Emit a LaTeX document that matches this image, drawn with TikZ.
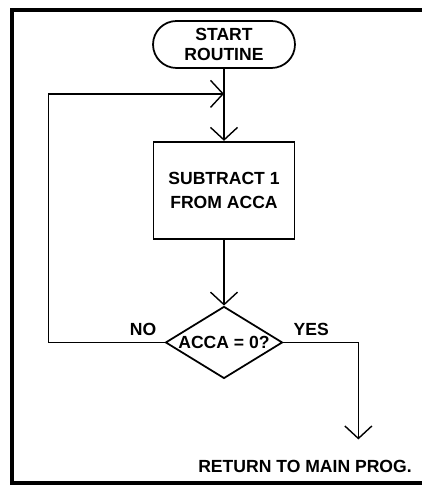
\documentclass[tikz,border=0pt]{standalone}
\usepackage{fontspec}
\setmainfont{Liberation Sans}
\usepackage{tikz}
\usetikzlibrary{shapes.geometric,arrows.meta,positioning}

\begin{document}
\begin{tikzpicture}[x=0.02cm,y=-0.02cm,font=\bfseries\fontsize{10}{11}\selectfont,
  term/.style={rectangle,rounded corners=4.7mm,draw,line width=1pt,align=center,minimum width=2.84cm,minimum height=0.94cm,inner sep=1pt},
  proc/.style={rectangle,draw,line width=1pt,align=center,minimum width=2.82cm,minimum height=1.94cm},
  dec/.style={diamond,draw,line width=1pt,aspect=1.6,inner sep=0pt,minimum width=2.34cm,minimum height=1.44cm},
  lbl/.style={inner sep=0pt},
  arr/.style={-{Straight Barb[length=2.5mm,width=5.4mm]},line width=0.8pt},
  frame/.style={line width=2.3pt}]
\useasboundingbox (0,0) rectangle (422,493);
\draw[frame] (422,10) -- (12,10) -- (12,483) -- (422,483);
\node[term] (start) at (224,44.5) {START\\ROUTINE};
\node[proc,below=14.4mm of start] (sub) {SUBTRACT 1\\[2.5pt]FROM ACCA};
\node[dec,below=13.2mm of sub] (test) {ACCA = 0?};
\coordinate[below=5mm of start] (merge);
\coordinate[right=15mm of test.east] (bend);
\coordinate[below=19.4mm of bend] (exit);
\node[lbl,above left=1.2mm and 1.6mm of test.west] (no) {NO};
\node[lbl,above right=1.2mm and 2mm of test.east] (yes) {YES};
\node[lbl] (ret) at (305,466) {RETURN TO MAIN PROG.};
\draw[arr] (start) -- (sub);
\draw[arr] (sub) -- (test);
\draw[arr] (test.west) -- ++(-116,0) |- (merge);
\draw[arr] (test.east) -- (bend) -- (exit);
\end{tikzpicture}
\end{document}
